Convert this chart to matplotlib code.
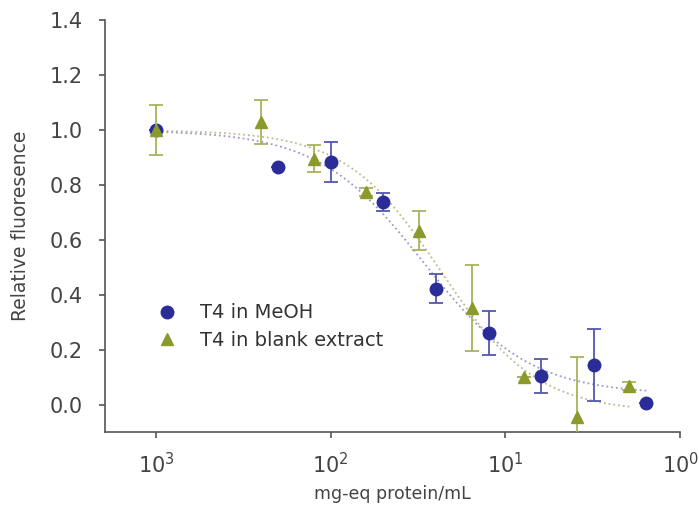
import numpy as np
import matplotlib
matplotlib.use('Agg')
import matplotlib.pyplot as plt
from matplotlib.ticker import FixedLocator, NullLocator
from matplotlib.lines import Line2D

# data
meoh_x = [1000, 200, 100, 50, 25, 12.5, 6.25, 3.125, 1.5625]
meoh_y = [1.00, 0.865, 0.883, 0.738, 0.422, 0.262, 0.106, 0.145, 0.006]
meoh_err = [0.0, 0.0, 0.073, 0.033, 0.053, 0.08, 0.062, 0.13, 0.0]

blank_x = [1000, 250, 125, 62.5, 31.25, 15.625, 7.8125, 3.906, 1.953]
blank_y = [1.00, 1.03, 0.896, 0.774, 0.634, 0.352, 0.100, -0.046, 0.069]
blank_err = [0.09, 0.08, 0.05, 0.015, 0.07, 0.156, 0.0, 0.22, 0.015]

xticks = [1000, 100, 10, 1]
xticklabels = ['$10^3$', '$10^2$', '$10^1$', '$10^0$']
yticks = [0.0, 0.2, 0.4, 0.6, 0.8, 1.0, 1.2, 1.4]

blue = '#2a2c98'
blue_err = '#5556ae'
olive = '#8c9a2c'
olive_err = '#a9b25a'


def fit_sigmoid(x, y):
    # logistic fit by grid search, top fixed at 1, bottom by least squares
    lx = np.log10(x)
    y = np.asarray(y)
    best = None
    for c in np.linspace(0.5, 2.5, 201):
        for h in np.linspace(0.4, 3.0, 131):
            s = 1.0 / (1.0 + 10 ** (h * (c - lx)))
            # y = b + (1 - b) * s  ->  y - s = b * (1 - s)
            u = 1.0 - s
            b = np.dot(u, y - s) / np.dot(u, u)
            r = np.sum((b + (1 - b) * s - y) ** 2)
            if best is None or r < best[0]:
                best = (r, c, h, b)
    _, c, h, b = best
    xs = np.logspace(lx.min(), lx.max(), 200)
    s = 1.0 / (1.0 + 10 ** (h * (c - np.log10(xs))))
    return xs, b + (1 - b) * s


fig = plt.figure(figsize=(6.99, 5.20), dpi=100)
ax = fig.add_axes([0.150, 0.169, 0.823, 0.792])

fx, fy = fit_sigmoid(meoh_x, meoh_y)
ax.plot(fx, fy, ls=':', color='#9a9cc8', lw=1.3, zorder=1)
fx, fy = fit_sigmoid(blank_x, blank_y)
ax.plot(fx, fy, ls=':', color='#c0b890', lw=1.3, zorder=1)

ax.errorbar(meoh_x, meoh_y, yerr=meoh_err, fmt='o', color=blue, ecolor=blue_err,
            ms=9, capsize=5, elinewidth=1.3, capthick=1.3, zorder=3)
ax.errorbar(blank_x, blank_y, yerr=blank_err, fmt='^', color=olive, ecolor=olive_err,
            ms=9, capsize=5, elinewidth=1.3, capthick=1.3, zorder=4)

ax.set_xscale('log')
ax.set_xlim(1967, 1)
ax.set_ylim(-0.1, 1.4)
ax.xaxis.set_major_locator(FixedLocator(xticks))
ax.xaxis.set_minor_locator(NullLocator())
ax.set_xticklabels(xticklabels)
ax.set_yticks(yticks)
ax.set_yticklabels(['%.1f' % v for v in yticks])

for s in ['top', 'right']:
    ax.spines[s].set_visible(False)
for s in ['left', 'bottom']:
    ax.spines[s].set_color('#555555')
    ax.spines[s].set_linewidth(1.2)
ax.tick_params(axis='both', colors='#555555', labelcolor='#444444',
               labelsize=15, length=4, width=1.2, direction='out')
ax.tick_params(axis='x', pad=10)
ax.tick_params(axis='y', pad=12)

ax.set_xlabel('mg-eq protein/mL', fontsize=12.5, color='#444444', labelpad=6)
ax.set_ylabel('Relative fluoresence', fontsize=13.5, color='#444444', labelpad=14)

handles = [Line2D([], [], ls='none', marker='o', ms=9, color=blue),
           Line2D([], [], ls='none', marker='^', ms=9, color=olive)]
leg = ax.legend(handles, ['T4 in MeOH', 'T4 in blank extract'],
                loc='upper left', bbox_to_anchor=(0.06, 0.355), frameon=False,
                fontsize=14, handletextpad=1.2, labelspacing=0.45,
                numpoints=1, handlelength=1.0)
for t in leg.get_texts():
    t.set_color('#333333')

fig.savefig('out.png', dpi=100)
